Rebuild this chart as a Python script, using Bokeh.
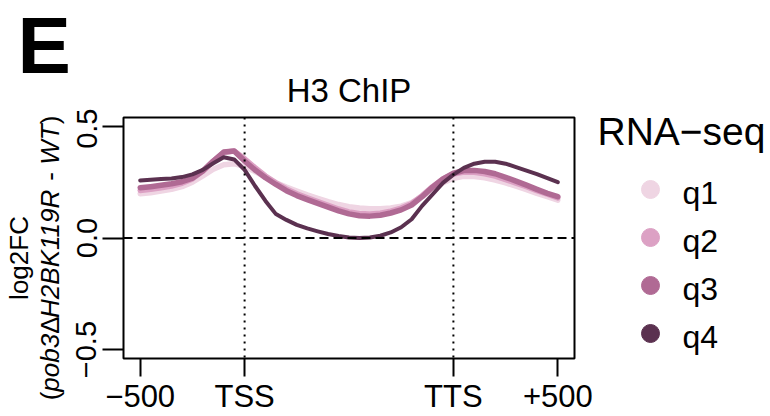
import math
from bokeh.plotting import figure
from bokeh.models import Span, FixedTicker, Range1d
from bokeh.layouts import row, column
from bokeh.core.properties import value
from bokeh.embed import file_html
from bokeh.resources import INLINE

# ---------------- data ----------------
positions = [0, 50, 100, 150, 200, 250, 300, 350, 400, 450, 500, 550, 600, 650, 700, 750,
             800, 850, 900, 950, 1000, 1050, 1100, 1150, 1200, 1250, 1300, 1350, 1400, 1450,
             1500, 1550, 1600, 1650, 1700, 1750, 1800, 1850, 1900, 1950, 2000]

q1 = [0.198, 0.203, 0.210, 0.218, 0.230, 0.250, 0.278, 0.308, 0.328, 0.333, 0.320, 0.298,
      0.272, 0.248, 0.228, 0.210, 0.193, 0.178, 0.163, 0.150, 0.140, 0.134, 0.131, 0.131,
      0.135, 0.143, 0.158, 0.185, 0.218, 0.248, 0.268, 0.276, 0.276, 0.270, 0.260, 0.247,
      0.232, 0.217, 0.200, 0.185, 0.170]
q2 = [0.213, 0.218, 0.225, 0.233, 0.245, 0.265, 0.300, 0.345, 0.383, 0.390, 0.355, 0.315,
      0.278, 0.247, 0.220, 0.198, 0.180, 0.163, 0.146, 0.130, 0.117, 0.110, 0.108, 0.111,
      0.120, 0.134, 0.155, 0.190, 0.230, 0.265, 0.287, 0.296, 0.295, 0.288, 0.277, 0.262,
      0.246, 0.230, 0.212, 0.196, 0.180]
q3 = [0.225, 0.230, 0.236, 0.243, 0.252, 0.268, 0.300, 0.345, 0.385, 0.390, 0.345, 0.305,
      0.270, 0.240, 0.212, 0.190, 0.172, 0.155, 0.138, 0.122, 0.108, 0.100, 0.098, 0.102,
      0.112, 0.126, 0.148, 0.185, 0.228, 0.265, 0.290, 0.302, 0.303, 0.298, 0.288, 0.272,
      0.255, 0.237, 0.218, 0.200, 0.185]
q4 = [0.258, 0.261, 0.264, 0.267, 0.273, 0.285, 0.305, 0.335, 0.362, 0.352, 0.305, 0.233,
      0.166, 0.107, 0.081, 0.059, 0.043, 0.030, 0.018, 0.009, 0.002, 0.000, 0.002, 0.010,
      0.025, 0.048, 0.084, 0.144, 0.195, 0.247, 0.284, 0.314, 0.333, 0.342, 0.342, 0.333,
      0.318, 0.302, 0.286, 0.268, 0.250]

series_names = ["q1", "q2", "q3", "q4"]
series_values = [q1, q2, q3, q4]
series_colors = ["#EFD5E3", "#DCA1C4", "#B06A94", "#5B3150"]
series_widths = [5.5, 5.5, 5.5, 4]

x_tick_values = [0, 500, 1500, 2000]
x_tick_labels = ["\u2212500", "TSS", "TTS", "+500"]
y_tick_values = [-0.5, 0.0, 0.5]
y_tick_labels = ["\u22120.5", "0.0", "0.5"]
tss_pos, tts_pos = 500, 1500

title_text = "H3 ChIP"
legend_title = "RNA\u2212seq"
panel_letter = "E"
ylab_line1 = "log2FC"
ylab_line2 = [("(", "normal"), ("pob3", "italic"), ("\u0394", "normal"),
              ("H2BK119R", "italic"), (" - ", "normal"), ("WT", "italic"), (")", "normal")]

FONT = "Liberation Sans"
MID = 0.3465   # em distance from alphabetic baseline to the em-box middle

# ---------------- layout constants (canvas px) ----------------
W, H = 770, 416
TOP_H = 108          # top strip: panel letter + title
LEFT_W = 65          # left strip: y-axis title
RIGHT_W = 176        # right strip: legend
MAIN_W = W - LEFT_W - RIGHT_W
BODY_H = H - TOP_H
FL, FR, FT, FB = 123, 574, 117, 361   # frame edges


def strip(width, height):
    f = figure(width=width, height=height, output_backend="svg", toolbar_location=None,
               x_range=Range1d(0, width), y_range=Range1d(0, height),
               x_axis_type=None, y_axis_type=None,
               min_border_left=0, min_border_right=0, min_border_top=0,
               min_border_bottom=0, frame_align=False)
    f.outline_line_color = None
    f.background_fill_color = "white"
    f.border_fill_color = "white"
    f.xgrid.visible = False
    f.ygrid.visible = False
    return f


# ---------------- main plot ----------------
p = figure(width=MAIN_W, height=BODY_H, output_backend="svg", toolbar_location=None,
           x_range=Range1d(-80, 2080), y_range=Range1d(-0.54, 0.54),
           min_border_left=FL - LEFT_W, min_border_right=LEFT_W + MAIN_W - FR,
           min_border_top=FT - TOP_H, min_border_bottom=H - FB, frame_align=False)
p.background_fill_color = "white"
p.border_fill_color = "white"
p.outline_line_color = "black"
p.outline_line_width = 2
p.xgrid.visible = False
p.ygrid.visible = False

xa = p.xaxis[0]
xa.ticker = FixedTicker(ticks=x_tick_values)
xa.major_label_overrides = {v: t for v, t in zip(x_tick_values, x_tick_labels)}
xa.axis_line_color = None
xa.major_tick_line_color = "black"
xa.major_tick_line_width = 2
xa.major_tick_in = 0
xa.major_tick_out = 18
xa.minor_tick_line_color = None
xa.major_label_text_font = FONT
xa.major_label_text_font_size = "31px"
xa.major_label_text_color = "black"
xa.major_label_standoff = 2

ya = p.yaxis[0]
ya.ticker = FixedTicker(ticks=y_tick_values)
ya.major_label_overrides = {v: t for v, t in zip(y_tick_values, y_tick_labels)}
ya.axis_line_color = None
ya.major_tick_line_color = "black"
ya.major_tick_line_width = 2
ya.major_tick_in = 0
ya.major_tick_out = 21
ya.minor_tick_line_color = None
ya.major_label_text_font = FONT
ya.major_label_text_font_size = "29px"
ya.major_label_text_color = "black"
ya.major_label_orientation = "vertical"
ya.major_label_standoff = 6

p.add_layout(Span(location=0, dimension="width", line_color="black", line_width=2,
                  line_dash="9 5"))
for loc in (tss_pos, tts_pos):
    p.add_layout(Span(location=loc, dimension="height", line_color="black",
                      line_width=2, line_dash="2 5"))

for vals, col, w in zip(series_values, series_colors, series_widths):
    p.line(positions, vals, line_color=col, line_width=w, line_join="round",
           line_cap="round")

# ---------------- top strip: letter + title ----------------
top = strip(W, TOP_H)
top.text(x=[17], y=[TOP_H - (73 - MID * 80)], text=[panel_letter], text_font=value(FONT),
         text_font_size=value("80px"), text_font_style=value("bold"),
         text_color="black", text_align="left", text_baseline="middle")
top.text(x=[(FL + FR) / 2], y=[TOP_H - (101 - MID * 33)], text=[title_text],
         text_font=value(FONT), text_font_size=value("33px"), text_color="black",
         text_align="center", text_baseline="middle")

# ---------------- left strip: y-axis title ----------------
left = strip(LEFT_W, BODY_H)
YL_SIZE = 26
YL_CENTER = 257.5          # canvas y of the label centre
char_w = {"(": 0.333, ")": 0.333, "p": 0.556, "o": 0.556, "b": 0.556, "3": 0.556,
          "\u0394": 0.612, "H": 0.722, "2": 0.556, "B": 0.667, "K": 0.667, "1": 0.556,
          "9": 0.556, "R": 0.722, " ": 0.278, "-": 0.333, "W": 0.944, "T": 0.611,
          "l": 0.222, "g": 0.556, "F": 0.611, "C": 0.722}


def tw(s):
    return sum(char_w.get(c, 0.556) for c in s) * YL_SIZE


def draw_rot_line(pieces, baseline_x):
    total = sum(tw(s) for s, _ in pieces)
    cursor = YL_CENTER + total / 2
    for s, style in pieces:
        cursor -= (len(s) - len(s.lstrip(" "))) * char_w[" "] * YL_SIZE
        core = s.strip(" ")
        left.text(x=[baseline_x - MID * YL_SIZE], y=[H - cursor], text=[core],
                  text_font=value(FONT), text_font_size=value(f"{YL_SIZE}px"),
                  text_font_style=value(style), text_color="black",
                  text_align="left", text_baseline="middle", angle=math.pi / 2)
        cursor -= tw(core)
        cursor -= (len(s) - len(s.rstrip(" "))) * char_w[" "] * YL_SIZE


draw_rot_line([(ylab_line1, "normal")], 28)
draw_rot_line(ylab_line2, 59)

# ---------------- right strip: legend ----------------
right = strip(RIGHT_W, BODY_H)
X0 = LEFT_W + MAIN_W
LT_SIZE = 39
right.text(x=[597 - X0], y=[H - (117 + 0.716 * LT_SIZE - MID * LT_SIZE)],
           text=[legend_title], text_font=value(FONT),
           text_font_size=value(f"{LT_SIZE}px"), text_color="black",
           text_align="left", text_baseline="middle")
LEG_Y0, LEG_STEP = 189, 48
leg_cy = [LEG_Y0 + LEG_STEP * i for i in range(len(series_names))]
right.scatter(x=[650 - X0] * len(series_names), y=[H - c for c in leg_cy],
              marker="circle", size=18, fill_color=series_colors,
              line_color=series_colors)
right.text(x=[682 - X0] * len(series_names), y=[H - (c + 3.5) for c in leg_cy],
           text=series_names, text_font=value(FONT), text_font_size=value("32px"),
           text_color="black", text_align="left", text_baseline="middle")

layout = column(top, row(left, p, right, spacing=0), spacing=0)
open("out.html", "w").write(file_html(layout, INLINE))
